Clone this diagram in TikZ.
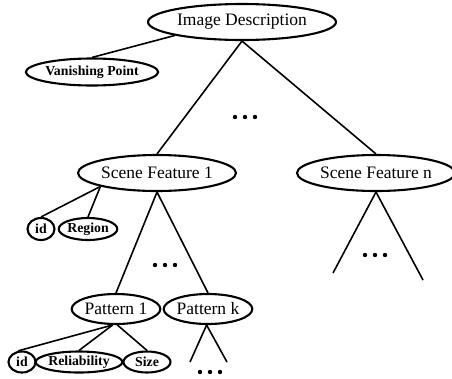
\documentclass[tikz,border=0pt]{standalone}
\usepackage{fontspec}
\setmainfont{Liberation Serif}
\usetikzlibrary{shapes.geometric}

\tikzset{
  big/.style={ellipse, draw, line width=2.1pt, inner sep=0pt,
    font=\fontsize{17.5}{17.5}\selectfont},
  small/.style={ellipse, draw, line width=2.1pt, inner sep=0pt,
    font=\fontsize{13.8}{13.8}\selectfont\bfseries},
  link/.style={line width=1.6pt},
  dot/.style={fill=black, circle, inner sep=0pt, minimum size=4.4pt},
}

\newcommand{\threedots}[2]{%
  \node[dot] at (#1-10,#2) {};
  \node[dot] at (#1,#2) {};
  \node[dot] at (#1+10,#2) {};
}

\begin{document}
\begin{tikzpicture}[x=1pt, y=-1pt]
  \useasboundingbox (0,0) rectangle (452,378);

  % root and its attribute
  \node[big, minimum width=188pt, minimum height=36pt] (img) at (242,22) {Image Description};
  \node[small, minimum width=116pt, minimum height=27pt] (vp) at (92,72) {Vanishing Point};

  % scene features
  \node[big, minimum width=150pt, minimum height=36pt] (sf1) at (157,173) {Scene Feature 1};
  \node[big, minimum width=148pt, minimum height=36pt] (sfn) at (376,173) {Scene Feature n};

  % attributes of scene feature 1
  \node[small, minimum width=27pt, minimum height=22pt] (id1) at (41,229) {id};
  \node[small, minimum width=57pt, minimum height=22pt] (reg) at (88,229) {Region};

  % patterns
  \node[big, minimum width=78pt, minimum height=30pt] (p1) at (116,309) {Pattern 1};
  \node[big, minimum width=80pt, minimum height=30pt] (pk) at (208,309) {Pattern k};

  % attributes of pattern 1
  \node[small, minimum width=27pt, minimum height=21pt] (id2) at (22,362) {id};
  \node[small, minimum width=72pt, minimum height=21pt] (rel) at (79,362) {Reliability};
  \node[small, minimum width=47pt, minimum height=21pt] (size) at (147,362) {Size};

  % open ends of the elided subtrees
  \coordinate (nl) at (333,273);
  \coordinate (nr) at (423,280);
  \coordinate (kl) at (190,362);
  \coordinate (kr) at (227,362);

  % connectors
  \draw[link] (img.south west) -- (vp.north);
  \draw[link] (img.south) -- (sf1.north);
  \draw[link] (img.south) -- (sfn.north);
  \draw[link] (sf1.south west) -- (id1.north);
  \draw[link] (sf1.south west) -- (reg.north);
  \draw[link] (sf1.south) -- (p1.north);
  \draw[link] (sf1.south) -- (pk.north);
  \draw[link] (sfn.south) -- (nl);
  \draw[link] (sfn.south) -- (nr);
  \draw[link] (p1.258) -- (id2.110);
  \draw[link] (p1.258) -- (rel.north);
  \draw[link] (p1.275) -- (size.north);
  \draw[link] (pk.265) -- (kl);
  \draw[link] (pk.265) -- (kr);

  % ellipses marking omitted siblings
  \threedots{245}{117}
  \threedots{165}{265}
  \threedots{375}{255}
  \threedots{210}{372}
\end{tikzpicture}
\end{document}
